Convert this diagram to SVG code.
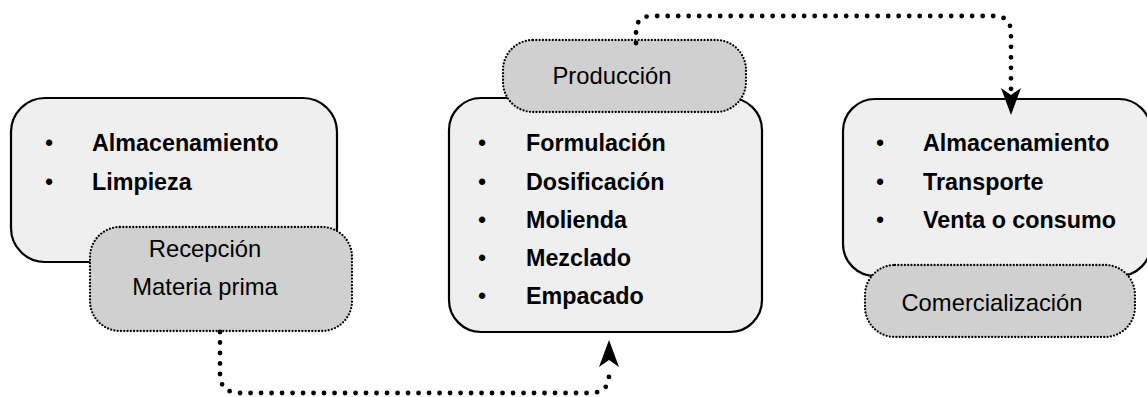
<svg xmlns="http://www.w3.org/2000/svg" width="1147" height="397" viewBox="0 0 1147 397">
<style>
.main{fill:#efefef;stroke:#000;stroke-width:2.2}
.tag{fill:#d0d0d0;stroke:#000;stroke-width:2.3;stroke-dasharray:0 3.3;stroke-linecap:round}
.b{font-family:"Liberation Sans",Arial,sans-serif;font-size:23.3px;font-weight:bold;fill:#000}
.bul{font-family:"Liberation Sans",Arial,sans-serif;font-size:23.3px;fill:#000;text-anchor:middle}
.r{font-family:"Liberation Sans",Arial,sans-serif;font-size:23.8px;fill:#000;text-anchor:middle}
.con{fill:none;stroke:#000;stroke-width:4.8;stroke-linecap:round;stroke-dasharray:0 10.5}
.head{fill:#000}
</style>
<g id="recepcion">
<rect class="main" x="11" y="98" width="326" height="164" rx="34"/>
<text class="bul" x="49" y="151">•</text><text class="b" x="92" y="151">Almacenamiento</text>
<text class="bul" x="49" y="190">•</text><text class="b" x="92" y="190">Limpieza</text>
<rect class="tag" x="90" y="227" width="262" height="104" rx="30"/>
<text class="r" x="205" y="257">Recepción</text>
<text class="r" x="205" y="295">Materia prima</text>
</g>
<g id="produccion">
<rect class="main" x="449" y="98" width="313" height="234" rx="32"/>
<text class="bul" x="482" y="151">•</text><text class="b" x="526" y="151">Formulación</text>
<text class="bul" x="482" y="190">•</text><text class="b" x="526" y="190">Dosificación</text>
<text class="bul" x="482" y="228">•</text><text class="b" x="526" y="228">Molienda</text>
<text class="bul" x="482" y="266">•</text><text class="b" x="526" y="266">Mezclado</text>
<text class="bul" x="482" y="304">•</text><text class="b" x="526" y="304">Empacado</text>
<rect class="tag" x="503" y="40" width="243" height="72" rx="30"/>
<text class="r" x="612" y="84">Producción</text>
</g>
<g id="comercializacion">
<rect class="main" x="843" y="99" width="308" height="177" rx="32"/>
<text class="bul" x="880" y="151">•</text><text class="b" x="923" y="151">Almacenamiento</text>
<text class="bul" x="880" y="190">•</text><text class="b" x="923" y="190">Transporte</text>
<text class="bul" x="880" y="228">•</text><text class="b" x="923" y="228">Venta o consumo</text>
<rect class="tag" x="865" y="265" width="270" height="72" rx="30"/>
<text class="r" x="992" y="311">Comercialización</text>
</g>
<g id="connectors">
<path class="con" d="M636 43 L636 32 Q636 16 652 16 L994 16 Q1011 16 1011 33 L1011 92"/>
<path class="head" d="M1001 88 L1011 115 L1021 88 L1011 95 Z"/>
<path class="con" d="M220 332 L220 374 Q220 393 240 393 L590 393 Q609 393 609 375 L609 368"/>
<path class="head" d="M599 367 L609 340 L619 367 L609 360 Z"/>
</g>
</svg>
